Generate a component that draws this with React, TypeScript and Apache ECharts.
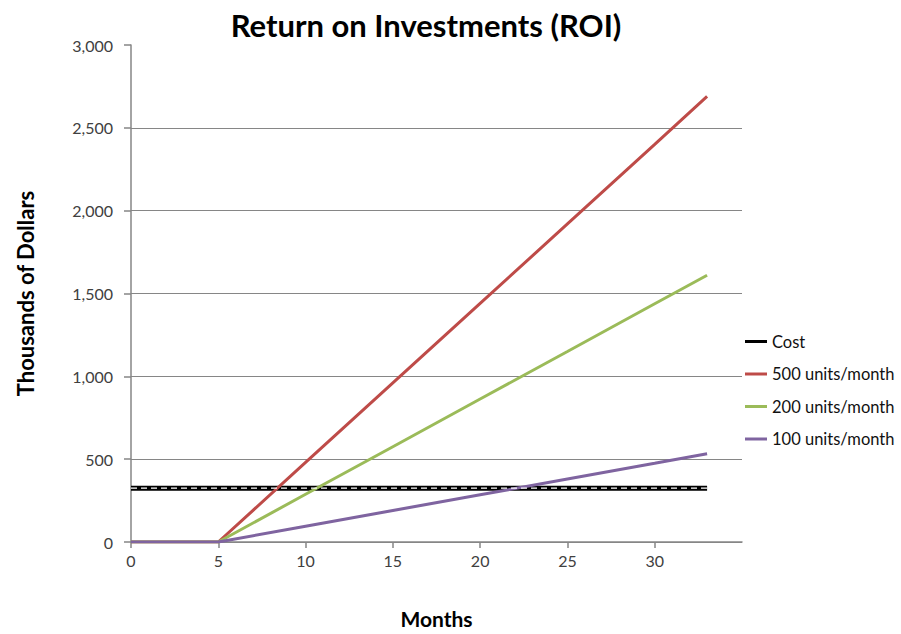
import React, { useEffect, useRef } from "react";
import * as echarts from "echarts";

const months = [0, 5, 10, 15, 20, 25, 30, 33];
const cost = [325, 325, 325, 325, 325, 325, 325, 325];
const units500 = [0, 0, 480, 960, 1440, 1920, 2400, 2690];
const units200 = [0, 0, 288, 575, 863, 1150, 1438, 1610];
const units100 = [0, 0, 95, 190, 285, 380, 475, 533];
const seriesNames = ["Cost", "500 units/month", "200 units/month", "100 units/month"];
const colors = ["#000000", "#BE4B48", "#9BBB59", "#7F64A0"];

const pair = (vals: number[]) => months.map((m, i) => [m, vals[i]]);

export default function App() {
  const ref = useRef<HTMLDivElement>(null);
  useEffect(() => {
    if (!ref.current) return;
    const chart = echarts.init(ref.current, undefined, { renderer: "svg" });
    const font = "Lato, 'Open Sans', sans-serif";
    const lineSeries = (name: string, vals: number[], color: string, width: number) => ({
      name,
      type: "line",
      data: pair(vals),
      showSymbol: false,
      symbol: "none",
      lineStyle: { color, width },
      itemStyle: { color },
      z: 3,
    });
    chart.setOption({
      animation: false,
      backgroundColor: "#ffffff",
      textStyle: { fontFamily: font },
      title: {
        text: "Return on Investments (ROI)",
        left: 421,
        textAlign: "center",
        top: 4,
        textStyle: { fontFamily: font, fontWeight: "bold", fontSize: 31, color: "#000" },
      },
      legend: {
        orient: "vertical",
        left: 740,
        top: 328,
        itemWidth: 22,
        itemHeight: 3,
        itemGap: 15.5,
        icon: "rect",
        data: seriesNames,
        textStyle: { fontFamily: font, fontSize: 16.5, lineHeight: 16, color: "#111" },
      },
      grid: { left: 131, right: 159, top: 45, bottom: 88, containLabel: false },
      xAxis: {
        type: "value",
        min: 0,
        max: 35,
        interval: 5,
        name: "Months",
        nameLocation: "middle",
        nameGap: 66,
        nameTextStyle: { fontFamily: font, fontWeight: "bold", fontSize: 21, color: "#000" },
        axisLine: { show: true, lineStyle: { color: "#868686", width: 1.5 } },
        axisTick: { show: true, length: 6, lineStyle: { color: "#868686", width: 1.5 } },
        splitLine: { show: false },
        axisLabel: {
          showMaxLabel: false,
          margin: 10,
          fontSize: 16,
          color: "#404040",
          fontFamily: font,
        },
      },
      yAxis: {
        type: "value",
        min: 0,
        max: 3000,
        interval: 500,
        name: "Thousands of Dollars",
        nameLocation: "middle",
        nameRotate: 90,
        nameGap: 95,
        nameTextStyle: { fontFamily: font, fontWeight: "bold", fontSize: 22, color: "#000" },
        axisLine: { show: true, lineStyle: { color: "#868686", width: 1.5 } },
        axisTick: { show: true, length: 7, lineStyle: { color: "#868686", width: 1.5 } },
        splitLine: { show: true, showMaxLine: false, lineStyle: { color: "#868686", width: 1.2 } },
        axisLabel: {
          margin: 18,
          fontSize: 16,
          color: "#404040",
          fontFamily: font,
          formatter: (v: number) => v.toLocaleString("en-US"),
        },
      },
      series: [
        lineSeries(seriesNames[0], cost, colors[0], 5),
        {
          name: "CostDash",
          type: "line",
          data: pair(cost),
          showSymbol: false,
          symbol: "none",
          lineStyle: { color: "#ffffff", width: 1.2, type: [6, 4] },
          z: 4,
          silent: true,
        },
        lineSeries(seriesNames[1], units500, colors[1], 3),
        lineSeries(seriesNames[2], units200, colors[2], 3),
        lineSeries(seriesNames[3], units100, colors[3], 3),
      ],
    });
    return () => chart.dispose();
  }, []);
  return (
    <div
      ref={ref}
      style={{ position: "fixed", left: 0, top: 0, width: 901, height: 634 }}
    />
  );
}
